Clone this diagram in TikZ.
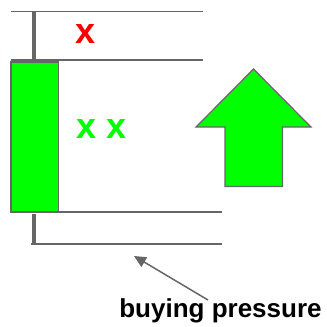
\documentclass[tikz,border=0pt]{standalone}
\usepackage{fontspec}
\setmainfont{Liberation Sans}
\usetikzlibrary{arrows.meta}
\definecolor{candlegreen}{HTML}{00FF00}
\definecolor{linegray}{HTML}{666666}
\definecolor{markred}{HTML}{FF0000}
\tikzset{
    level/.style={draw=linegray, line width=1.5pt},
    wick/.style={draw=linegray, line width=4pt},
    xmark/.style={font=\fontsize{36}{36}\selectfont\bfseries, inner sep=0pt}
}
\begin{document}
\begin{tikzpicture}[x=1pt, y=-1pt]
    \useasboundingbox (0,0) rectangle (327,327);
    % Levels
    \draw[level] (11,11.5) -- (203,11.5);
    \draw[level] (11,60) -- (203,60);
    \draw[level] (58,212) -- (222,212);
    \draw[level] (31,244) -- (222,244);
    % Wicks
    \draw[wick] (34,12) -- (34,62);
    \draw[wick] (34,214) -- (34,244);
    % Body
    \draw[fill=candlegreen, draw=linegray, line width=1.5pt] (11,62) rectangle (58.5,212);
    % Marks
    \node[xmark, text=markred] (redmark) at (86,34) {x};
    \node[xmark, text=candlegreen] (greenmarks) at (101.5,129) {x x};
    % Big arrow
    \draw[fill=candlegreen, draw=linegray, line width=1.2pt]
        (253.5,69) -- (311,127) -- (282.5,127) -- (282.5,186.5)
        -- (225,186.5) -- (225,127) -- (196,127) -- cycle;
    % Label and pointer
    \node[font=\fontsize{26}{26}\selectfont\bfseries, inner sep=0pt] (pressure) at (220.5,311) {buying pressure};
    \coordinate (tail) at (208,300);
    \coordinate (head) at (134,256);
    \draw[-{Triangle[length=12pt,width=11pt]}, draw=linegray, fill=linegray, line width=1.5pt] (tail) -- (head);
\end{tikzpicture}
\end{document}
